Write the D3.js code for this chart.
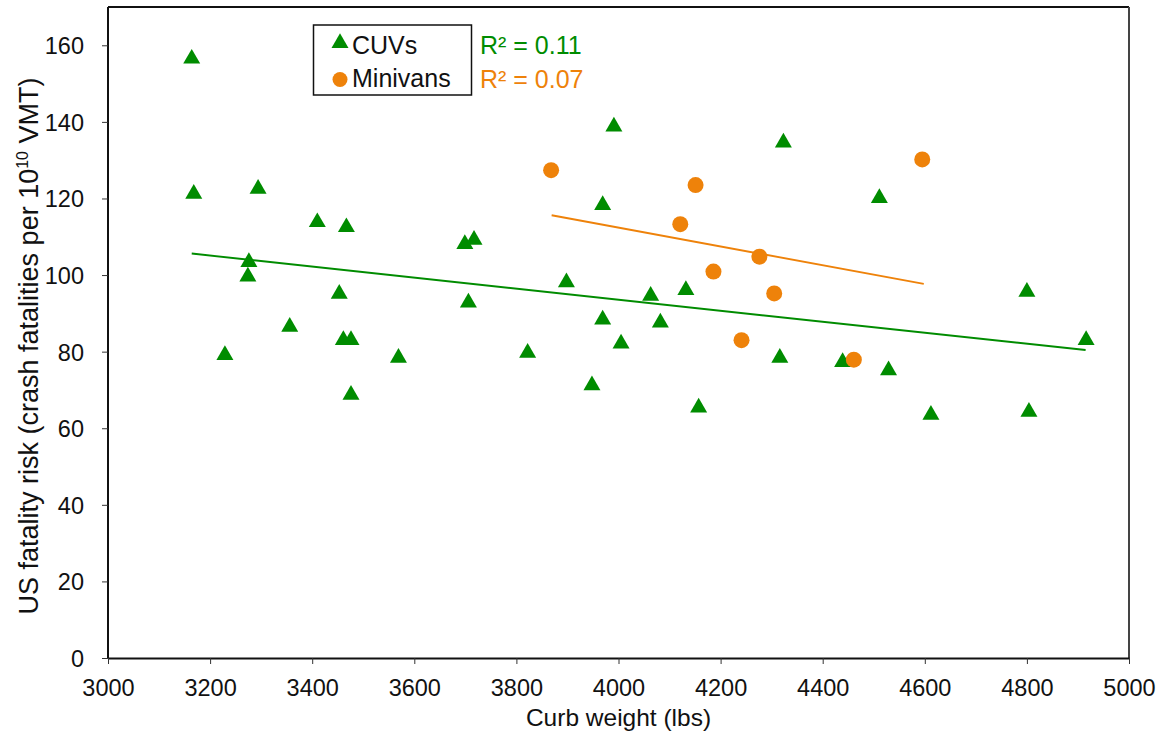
<!DOCTYPE html>
<html>
<head>
<meta charset="utf-8">
<script src="https://cdn.jsdelivr.net/npm/d3@7"></script>
<style>
  body { margin: 0; background: #fff; }
  svg text { font-family: "Liberation Sans", Arial, sans-serif; }
</style>
</head>
<body>
<svg id="chart" width="1164" height="744"></svg>
<script>
// CUVs: [curb weight, fatality risk]
const cuvWeight = [3164, 3168, 3294, 3229, 3276, 3274, 3356, 3410, 3453, 3467, 3461, 3476, 3476, 3569,
  3699, 3717, 3706, 3822, 3898, 3948, 3969, 3969, 3991, 4005, 4063, 4082, 4132, 4157, 4316, 4323,
  4439, 4511, 4529, 4612, 4800, 4804, 4916];
const cuvRisk = [156.5, 121.2, 122.5, 79.1, 103.4, 99.6, 86.5, 113.8, 95.1, 112.5, 83.0, 83.0, 68.7, 78.4,
  108.1, 109.2, 92.8, 79.7, 98.1, 71.2, 118.3, 88.4, 138.8, 82.1, 94.6, 87.6, 96.1, 65.4, 78.4, 134.6,
  77.3, 120.1, 75.1, 63.5, 95.6, 64.3, 83.0];

const vanWeight = [3868, 4121, 4151, 4186, 4241, 4276, 4305, 4461, 4595];
const vanRisk = [127.4, 113.3, 123.5, 100.9, 83.0, 104.8, 95.2, 77.9, 130.2];

// linear trend line endpoints as drawn
const cuvTrend = [[3164, 105.6], [4915, 80.4]];
const vanTrend = [[3869, 115.6], [4598, 97.7]];

const xTicks = [3000, 3200, 3400, 3600, 3800, 4000, 4200, 4400, 4600, 4800, 5000];
const yTicks = [0, 20, 40, 60, 80, 100, 120, 140, 160];

const green = '#008c00';
const orange = '#ee820a';

const margin = { top: 7, right: 35, bottom: 86, left: 108 };
const svg = d3.select('#chart');
const width = 1164 - margin.left - margin.right;
const height = 744 - margin.top - margin.bottom;

const x = d3.scaleLinear().domain([3000, 5000]).range([0, width]);
const y = d3.scaleLinear().domain([0, 170]).range([height, 0]);

const g = svg.append('g').attr('transform', `translate(${margin.left},${margin.top})`);

// frame top/right
g.append('line').attr('x1', 0).attr('x2', width).attr('y1', 0).attr('y2', 0)
  .attr('stroke', '#111').attr('stroke-width', 2);
g.append('line').attr('x1', width).attr('x2', width).attr('y1', 0).attr('y2', height)
  .attr('stroke', '#444').attr('stroke-width', 2);

const axisX = d3.axisBottom(x).tickValues(xTicks).tickFormat(d3.format('d'))
  .tickSizeInner(6).tickSizeOuter(0).tickPadding(15);
const gx = g.append('g').attr('transform', `translate(0,${height})`).call(axisX);

const axisY = d3.axisLeft(y).tickValues(yTicks).tickSizeInner(6).tickSizeOuter(0).tickPadding(18);
const gy = g.append('g').call(axisY);

[gx, gy].forEach(a => {
  a.select('.domain').attr('stroke', '#111').attr('stroke-width', 2);
  a.selectAll('.tick line').attr('stroke', '#333').attr('stroke-width', 1);
  a.selectAll('.tick text').attr('font-size', 23.5).attr('fill', '#111')
    .style('font-family', '"Liberation Sans", Arial, sans-serif');
});
gy.select('.domain').attr('d', `M0,${height}V0`);
gy.selectAll('.tick text').attr('dy', '0.36em');

// trend lines
const line = d3.line().x(d => x(d[0])).y(d => y(d[1]));
g.append('path').datum(cuvTrend).attr('d', line).attr('stroke', green).attr('stroke-width', 2).attr('fill', 'none');
g.append('path').datum(vanTrend).attr('d', line).attr('stroke', orange).attr('stroke-width', 2).attr('fill', 'none');

// markers
const tri = d3.symbol().type(d3.symbolTriangle).size(125);
g.selectAll('.cuv').data(cuvWeight.map((w, i) => [w, cuvRisk[i]])).join('path')
  .attr('class', 'cuv')
  .attr('d', tri)
  .attr('transform', d => `translate(${x(d[0])},${y(d[1])})`)
  .attr('fill', green);

g.selectAll('.van').data(vanWeight.map((w, i) => [w, vanRisk[i]])).join('circle')
  .attr('class', 'van')
  .attr('cx', d => x(d[0]))
  .attr('cy', d => y(d[1]))
  .attr('r', 8)
  .attr('fill', orange);

// legend
const lg = svg.append('g');
lg.append('rect').attr('x', 313.5).attr('y', 25).attr('width', 158).attr('height', 70)
  .attr('fill', '#fff').attr('stroke', '#111').attr('stroke-width', 1.5);
lg.append('path').attr('d', tri).attr('transform', 'translate(340,43)').attr('fill', green);
lg.append('circle').attr('cx', 340).attr('cy', 79.5).attr('r', 7.5).attr('fill', orange);
lg.append('text').attr('x', 352).attr('y', 54).attr('font-size', 25).attr('fill', '#111').text('CUVs');
lg.append('text').attr('x', 352).attr('y', 87).attr('font-size', 25).attr('fill', '#111').text('Minivans');
lg.append('text').attr('x', 480).attr('y', 54).attr('font-size', 25).attr('fill', green).text('R² = 0.11');
lg.append('text').attr('x', 480).attr('y', 88).attr('font-size', 25).attr('fill', orange).text('R² = 0.07');

// axis titles
svg.append('text').attr('x', margin.left + width / 2).attr('y', 726)
  .attr('text-anchor', 'middle').attr('font-size', 24.5).attr('fill', '#111').text('Curb weight (lbs)');

const yt = svg.append('text').attr('transform', 'translate(38,346) rotate(-90)')
  .attr('text-anchor', 'middle').attr('font-size', 27).attr('fill', '#111');
yt.append('tspan').text('US fatality risk (crash fatalities per 10');
yt.append('tspan').attr('font-size', 16).attr('dy', -10).text('10');
yt.append('tspan').attr('dy', 10).text(' VMT)');
</script>
</body>
</html>
